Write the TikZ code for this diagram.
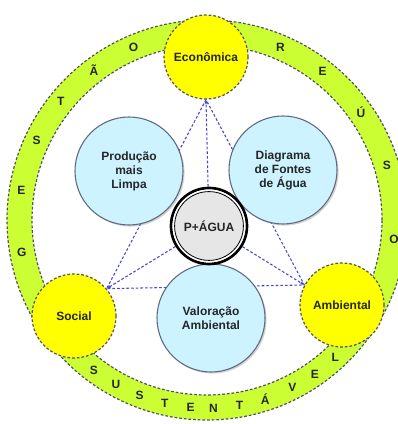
\documentclass[tikz,border=0pt]{standalone}
\usepackage{fontspec}
\setmainfont{Liberation Sans}
\usepackage{xcolor}
\usepackage{tikz}
\usetikzlibrary{arrows.meta, shadows, backgrounds}

\definecolor{anel}{RGB}{204,255,51}
\definecolor{amarelo}{RGB}{255,255,0}
\definecolor{azulclaro}{RGB}{204,243,255}
\definecolor{cinza}{RGB}{230,230,230}
\definecolor{borda}{RGB}{80,80,105}
\definecolor{bordaazul}{RGB}{95,105,130}
\definecolor{azul}{RGB}{70,70,210}

\begin{document}
\begin{tikzpicture}[x=0.75pt, y=0.75pt, every node/.style = {shape=circle, inner sep=0pt, align=center, text=black!85, font=\bfseries\fontsize{9}{10.5}\selectfont},
  dimensao/.style = {minimum size=63pt, fill=amarelo, draw=borda, line width=0.9pt, dash pattern=on 2pt off 1.5pt},
  ferramenta/.style = {minimum size=81pt, fill=azulclaro, draw=bordaazul, line width=0.8pt, drop shadow={shadow xshift=1.2pt, shadow yshift=-1.2pt, opacity=0.35}},
  letra/.style = {font=\bfseries\fontsize{9}{9}\selectfont},
  ligacao/.style = {draw=azul, line width=0.8pt, dash pattern=on 2pt off 1.5pt}]

\useasboundingbox (0,0) rectangle (398,424);

\coordinate (centro) at (207,204);
\fill[anel, even odd rule] (centro) circle [radius=200] (centro) circle [radius=175];
\draw[borda, line width=0.9pt, dash pattern=on 2pt off 1.5pt] (centro) circle [radius=200] (centro) circle [radius=175];

\node (g1) [letra] at ([shift={(190:188)}]centro) {G};
\node (g2) [letra] at ([shift={(171:188)}]centro) {E};
\node (g3) [letra] at ([shift={(155:188)}]centro) {S};
\node (g4) [letra] at ([shift={(141:188)}]centro) {T};
\node (g5) [letra] at ([shift={(127:188)}]centro) {Ã};
\node (g6) [letra] at ([shift={(113:188)}]centro) {O};
\node (r1) [letra] at ([shift={(67:188)}]centro) {R};
\node (r2) [letra] at ([shift={(52:188)}]centro) {E};
\node (r3) [letra] at ([shift={(35:188)}]centro) {Ú};
\node (r4) [letra] at ([shift={(17:188)}]centro) {S};
\node (r5) [letra] at ([shift={(-6:188)}]centro) {O};
\node (s1) [letra] at ([shift={(233:188)}]centro) {S};
\node (s2) [letra] at ([shift={(241:188)}]centro) {U};
\node (s3) [letra] at ([shift={(249:188)}]centro) {S};
\node (s4) [letra] at ([shift={(257:188)}]centro) {T};
\node (s5) [letra] at ([shift={(265:188)}]centro) {E};
\node (s6) [letra] at ([shift={(272:188)}]centro) {N};
\node (s7) [letra] at ([shift={(280:188)}]centro) {T};
\node (s8) [letra] at ([shift={(288:188)}]centro) {Á};
\node (s9) [letra] at ([shift={(297:188)}]centro) {V};
\node (s10) [letra] at ([shift={(305:188)}]centro) {E};
\node (s11) [letra] at ([shift={(313:188)}]centro) {L};

\node (economica) [dimensao] at (206,367) {Econômica};
\node (social) [dimensao] at (74,108) {Social};
\node (ambiental) [dimensao] at (342,119) {Ambiental};

\node (producao) [ferramenta] at (129,253) {Produção\\mais\\Limpa};
\node (diagrama) [ferramenta] at (283,254) {Diagrama\\de Fontes\\de Água};
\node (valoracao) [ferramenta] at (211,106) {Valoração\\Ambiental};

\node (pagua) [minimum size=57pt, fill=cinza, draw=black, line width=2pt] at (209,198) {P+ÁGUA};
\draw[white, line width=1.2pt] (pagua.center) circle [radius=35.6];
\draw[black, line width=0.6pt] (pagua.center) circle [radius=34.4];

\begin{pgfonlayer}{background}
\draw[ligacao] (economica.south) -- (social.40) -- (ambiental.152) -- cycle;
\draw[ligacao, -{Latex[length=3pt, width=2.5pt]}] (pagua) -- (economica.south);
\draw[ligacao, -{Latex[length=3pt, width=2.5pt]}] (pagua) -- (social.40);
\draw[ligacao, -{Latex[length=3pt, width=2.5pt]}] (pagua) -- (ambiental.152);
\end{pgfonlayer}
\end{tikzpicture}
\end{document}
